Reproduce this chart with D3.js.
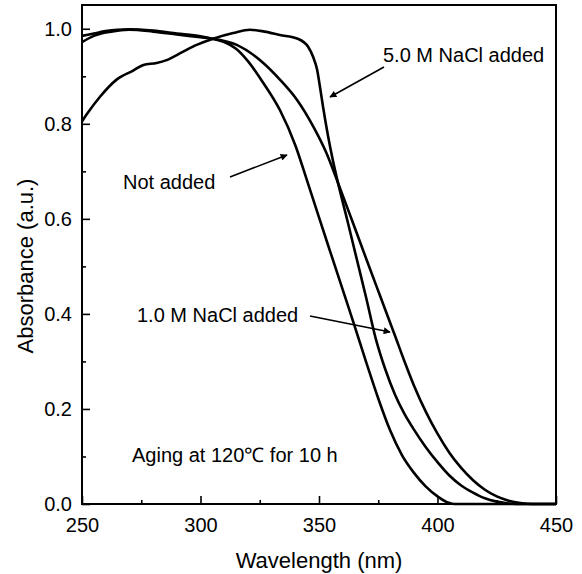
<!DOCTYPE html>
<html>
<head>
<meta charset="utf-8">
<script src="https://cdn.jsdelivr.net/npm/d3@7"></script>
<style>
  html, body { margin: 0; padding: 0; background: #fff; }
  svg { display: block; }
  text { font-family: "Liberation Sans", Arial, sans-serif; fill: #000; }
</style>
</head>
<body>
<svg id="chart" width="582" height="574"></svg>
<script>
// ---- data (wavelength nm, absorbance a.u.) ----
const notAdded = [[250,0.985],[255,0.99],[260,0.995],[265,0.998],[270,0.999],[280,0.996],[290,0.99],[300,0.984],[305,0.979],[310,0.972],[315,0.958],[320,0.932],[326.5,0.886],[333.5,0.829],[340,0.755],[345,0.68],[350,0.603],[355,0.527],[360,0.451],[365,0.375],[370,0.297],[375,0.222],[380,0.155],[385,0.103],[390,0.066],[395,0.037],[400,0.016],[404,0.004],[407,0],[450,0]];
const nacl1 = [[250,0.972],[255,0.985],[260,0.992],[265,0.996],[270,0.998],[280,0.994],[290,0.988],[300,0.982],[305,0.979],[315.3,0.966],[326.5,0.928],[333.5,0.893],[340.6,0.851],[347.6,0.794],[353,0.74],[358,0.676],[364,0.596],[370,0.515],[376,0.435],[382,0.355],[386,0.301],[390,0.25],[395,0.195],[400,0.148],[405,0.108],[410,0.076],[415,0.05],[420,0.03],[425,0.016],[430,0.007],[435,0.002],[440,0],[450,0]];
const nacl5 = [[250,0.805],[252,0.82],[257.6,0.857],[264.6,0.893],[271.6,0.912],[275.9,0.924],[281.5,0.928],[285.7,0.934],[292.7,0.952],[298.4,0.966],[305.3,0.979],[313.8,0.991],[320.9,0.998],[327,0.994],[333.5,0.987],[341,0.979],[345.4,0.962],[347.5,0.941],[349.2,0.914],[350.4,0.878],[351.7,0.836],[353.8,0.775],[355.9,0.722],[358,0.676],[362,0.596],[366,0.514],[370,0.432],[374,0.347],[378,0.283],[382,0.231],[386,0.19],[390,0.157],[395,0.12],[400,0.088],[405,0.06],[410,0.039],[415,0.024],[420,0.012],[425,0.005],[430,0.001],[433,0],[450,0]];

const xMajor = [250, 300, 350, 400, 450];
const xMinor = [275, 325, 375, 425];
const yMajor = [0.0, 0.2, 0.4, 0.6, 0.8, 1.0];
const yMinor = [0.1, 0.3, 0.5, 0.7, 0.9];
const xDomain = [250, 450];
const yDomain = [0, 1.05];

const xTitle = "Wavelength (nm)";
const yTitle = "Absorbance (a.u.)";
const labels = [
  {text: "5.0 M NaCl added", x: 383, y: 62},
  {text: "Not added", x: 123, y: 189},
  {text: "1.0 M NaCl added", x: 137, y: 322},
  {text: "Aging at 120\u2103 for 10 h", x: 132, y: 462}
];

// ---- layout ----
const L = 82, R = 556, T = 5, B = 504;
const svg = d3.select("#chart");
const x = d3.scaleLinear().domain(xDomain).range([L, R]);
const y = d3.scaleLinear().domain(yDomain).range([B, T]);

svg.append("defs").append("marker")
  .attr("id", "arrow").attr("viewBox", "0 0 10 10")
  .attr("refX", 9).attr("refY", 5)
  .attr("markerWidth", 9).attr("markerHeight", 7)
  .attr("markerUnits", "userSpaceOnUse")
  .attr("orient", "auto")
  .append("path").attr("d", "M0,0 L10,5 L0,10 z").attr("fill", "#000");

// axes
const fs = 20;
const xAxis = svg.append("g").attr("transform", `translate(0,${B})`)
  .call(d3.axisBottom(x).tickValues(xMajor).tickFormat(d3.format("d"))
    .tickSizeInner(-8).tickSizeOuter(0).tickPadding(14));
const xAxisMinor = svg.append("g").attr("transform", `translate(0,${B})`)
  .call(d3.axisBottom(x).tickValues(xMinor).tickFormat("")
    .tickSizeInner(-4).tickSizeOuter(0));
const yAxis = svg.append("g").attr("transform", `translate(${L},0)`)
  .call(d3.axisLeft(y).tickValues(yMajor).tickFormat(d3.format(".1f"))
    .tickSizeInner(-8).tickSizeOuter(0).tickPadding(10));
const yAxisMinor = svg.append("g").attr("transform", `translate(${L},0)`)
  .call(d3.axisLeft(y).tickValues(yMinor).tickFormat("")
    .tickSizeInner(-4).tickSizeOuter(0));
[xAxis, xAxisMinor, yAxis, yAxisMinor].forEach(g => {
  g.select(".domain").remove();
  g.selectAll("line").attr("stroke", "#000").attr("stroke-width", 1.6);
  g.selectAll("text").attr("font-size", fs).attr("font-family", "Liberation Sans, Arial, sans-serif").attr("fill", "#000");
});

// frame
svg.append("rect").attr("x", L).attr("y", T).attr("width", R - L).attr("height", B - T)
  .attr("fill", "none").attr("stroke", "#000").attr("stroke-width", 2);

// curves
const line = d3.line().x(d => x(d[0])).y(d => y(d[1])).curve(d3.curveMonotoneX);
svg.append("g")
  .selectAll("path").data([notAdded, nacl1, nacl5]).join("path")
  .attr("d", line).attr("fill", "none").attr("stroke", "#000")
  .attr("stroke-width", 2.6).attr("stroke-linejoin", "round");

// titles
svg.append("text").attr("x", (L + R) / 2).attr("y", 568).attr("text-anchor", "middle")
  .attr("font-size", 22).text(xTitle);
svg.append("text").attr("transform", "translate(33,266) rotate(-90)").attr("text-anchor", "middle")
  .attr("font-size", 22).text(yTitle);

// annotations
svg.selectAll("text.ann").data(labels).join("text").attr("class", "ann")
  .attr("x", d => d.x).attr("y", d => d.y).attr("font-size", fs).text(d => d.text);

// arrows (from label toward curve)
const arrows = [
  [[384, 67], [330, 97]],
  [[230, 177], [287, 155]],
  [[310, 316], [390, 332]]
];
svg.selectAll("line.arr").data(arrows).join("line").attr("class", "arr")
  .attr("x1", d => d[0][0]).attr("y1", d => d[0][1])
  .attr("x2", d => d[1][0]).attr("y2", d => d[1][1])
  .attr("stroke", "#000").attr("stroke-width", 1.6).attr("marker-end", "url(#arrow)");
</script>
</body>
</html>
